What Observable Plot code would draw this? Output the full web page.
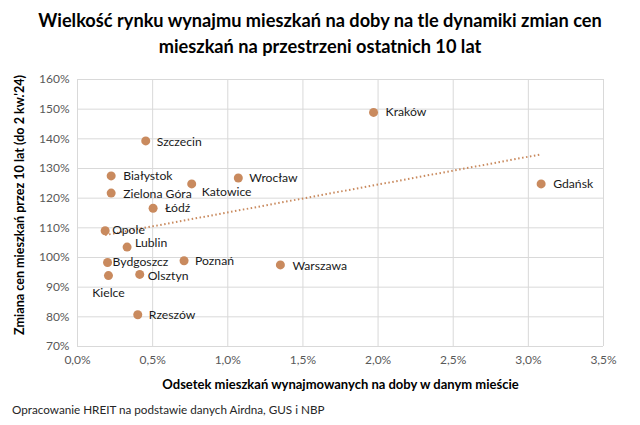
<!DOCTYPE html>
<html>
<head>
<meta charset="utf-8">
<script src="https://cdn.jsdelivr.net/npm/d3@7"></script>
<script src="https://cdn.jsdelivr.net/npm/@observablehq/plot@0.6"></script>
<style>
  body { margin: 0; background: #fff; font-family: Lato, "Open Sans", sans-serif; }
  #wrap { position: relative; width: 640px; height: 425px; overflow: hidden; }
  #title { position: absolute; left: 0; top: 7px; width: 640px; text-align: center;
           font-weight: bold; font-size: 18.2px; line-height: 26px; color: #000; }
  #caption { position: absolute; left: 12px; top: 402px; font-size: 11.7px; color: #262626; }
  #chart { position: absolute; left: 0; top: 0; }
</style>
</head>
<body>
<div id="wrap">
  <div id="chart"></div>
  <div id="title">Wielkość rynku wynajmu mieszkań na doby na tle dynamiki zmian cen<br>mieszkań na przestrzeni ostatnich 10 lat</div>
  <div id="caption">Opracowanie HREIT na podstawie danych Airdna, GUS i NBP</div>
</div>
<script>
// Data
const cities = ["Kraków", "Gdańsk", "Wrocław", "Katowice", "Warszawa", "Poznań", "Szczecin", "Białystok",
                "Zielona Góra", "Łódź", "Opole", "Lublin", "Bydgoszcz", "Kielce", "Olsztyn", "Rzeszów"];
const shortTermShare = [1.97, 3.085, 1.07, 0.76, 1.35, 0.709, 0.454, 0.224,
                        0.224, 0.503, 0.184, 0.33, 0.20, 0.206, 0.414, 0.401];   // % of flats rented short-term
const priceChange = [148.9, 124.8, 126.8, 124.8, 97.5, 98.9, 139.3, 127.5,
                     121.7, 116.6, 109.0, 103.5, 98.3, 93.9, 94.3, 80.7];          // % price change over 10 years
const xTicks = [0, 0.5, 1, 1.5, 2, 2.5, 3, 3.5];
const yTicks = [70, 80, 90, 100, 110, 120, 130, 140, 150, 160];

// Label placement (styling only)
const labelOffset = {
  "Kraków": [12, 0, "start"], "Gdańsk": [12, 0, "start"], "Wrocław": [11, 0, "start"],
  "Katowice": [10, 8, "start"], "Warszawa": [12, 1, "start"], "Poznań": [11, 0, "start"],
  "Szczecin": [11, 1, "start"], "Białystok": [12, 0, "start"], "Zielona Góra": [12, 1, "start"],
  "Łódź": [12, 0, "start"], "Opole": [7, -1, "start"], "Lublin": [8, -4, "start"],
  "Bydgoszcz": [5, 0, "start"], "Kielce": [0, 17, "middle"], "Olsztyn": [8, 2, "start"],
  "Rzeszów": [11, 0, "start"]
};

const data = cities.map((c, i) => ({city: c, x: shortTermShare[i], y: priceChange[i]}));
const fmtX = d => d.toFixed(1).replace(".", ",") + "%";
const fmtY = d => d + "%";
const dotColor = "#C98A5E";

const labelMarks = data.map(d =>
  Plot.text([d], {x: "x", y: "y", text: "city", textAnchor: labelOffset[d.city][2],
    dx: labelOffset[d.city][0], dy: labelOffset[d.city][1],
    fontSize: 12.2, fill: "#1a1a1a"}));

const chart = Plot.plot({
  width: 640,
  height: 425,
  marginTop: 79,
  marginBottom: 79,
  marginLeft: 77,
  marginRight: 37,
  style: {fontFamily: "Lato, 'Open Sans', sans-serif", background: "transparent"},
  x: {domain: [0, 3.5], ticks: xTicks, tickFormat: fmtX, tickSize: 0, tickPadding: 9,
      label: "Odsetek mieszkań wynajmowanych na doby w danym mieście", labelAnchor: "center",
      labelOffset: 42, labelArrow: "none"},
  y: {domain: [70, 160], ticks: yTicks, tickFormat: fmtY, tickSize: 0, tickPadding: 8,
      label: "Zmiana cen mieszkań przez 10 lat (do 2 kw.'24)", labelAnchor: "center",
      labelOffset: 62, labelArrow: "none"},
  marks: [
    Plot.gridX(xTicks, {stroke: "#d9d9d9", strokeOpacity: 1}),
    Plot.gridY(yTicks, {stroke: "#d9d9d9", strokeOpacity: 1}),
    Plot.linearRegressionY(data, {x: "x", y: "y", ci: 0, stroke: dotColor, strokeWidth: 2,
      strokeDasharray: "1.5,2.5", strokeLinecap: "butt"}),
    Plot.dot(data, {x: "x", y: "y", r: 4.5, fill: dotColor, stroke: "none"}),
    ...labelMarks
  ]
});
document.getElementById("chart").appendChild(chart);

const svg = d3.select(chart);
svg.selectAll("[aria-label^='x-axis tick label'], [aria-label^='y-axis tick label']")
  .attr("fill", "#595959").attr("font-size", 12);
svg.selectAll("[aria-label^='x-axis label']")
  .attr("font-size", 13).attr("font-weight", "bold").attr("fill", "#000");
svg.selectAll("[aria-label^='y-axis label']")
  .attr("font-size", 12.6).attr("font-weight", "bold").attr("fill", "#000")
  .attr("transform", function() { return "translate(0,-8) " + (this.getAttribute("transform") || ""); });
</script>
</body>
</html>
